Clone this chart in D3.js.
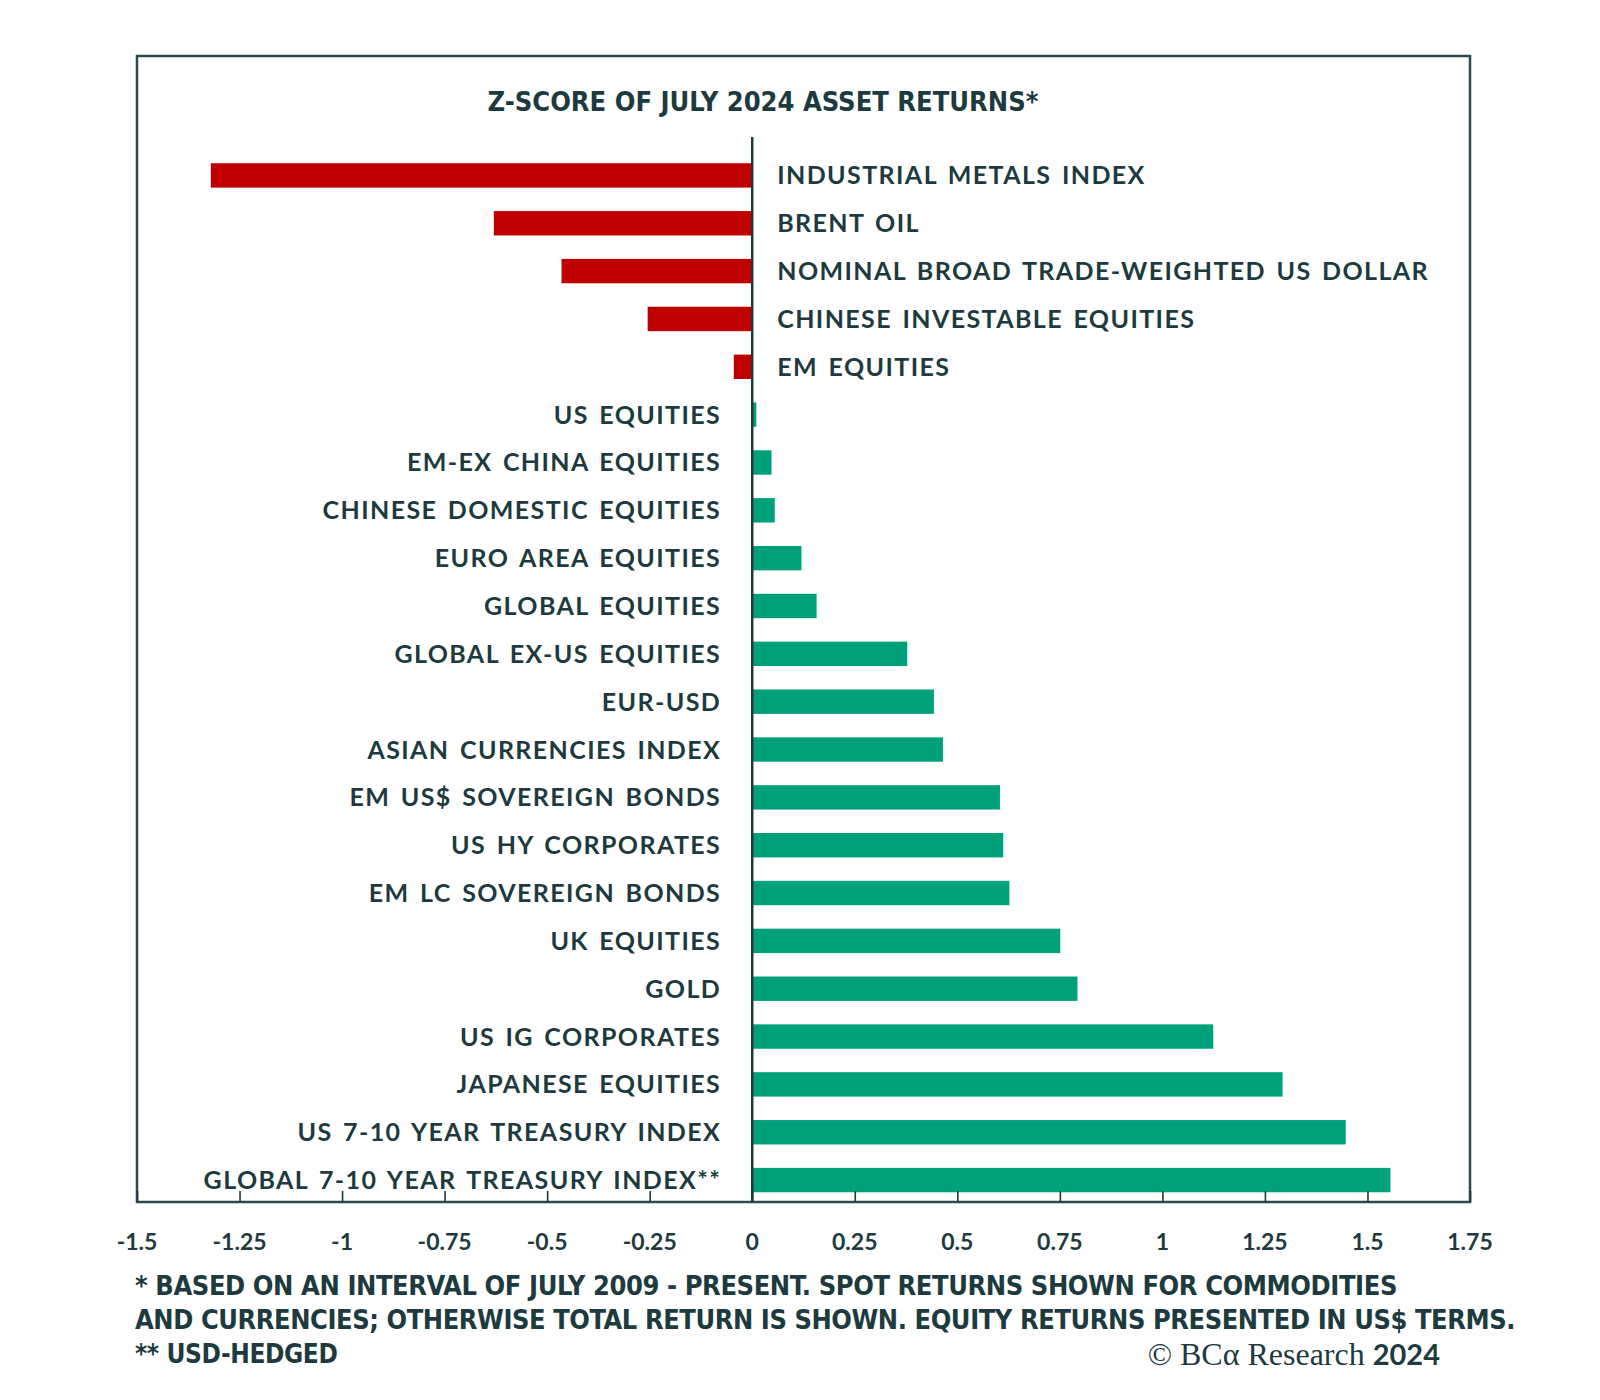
<!DOCTYPE html>
<html>
<head>
<meta charset="utf-8">
<script src="https://cdn.jsdelivr.net/npm/d3@7"></script>
<style>
  body { margin: 0; background: #fff; }
  svg { display: block; }
</style>
</head>
<body>
<svg id="chart" width="1600" height="1400"></svg>
<script>
// asset names, top to bottom
const assets = [
  "INDUSTRIAL METALS INDEX",
  "BRENT OIL",
  "NOMINAL BROAD TRADE-WEIGHTED US DOLLAR",
  "CHINESE INVESTABLE EQUITIES",
  "EM EQUITIES",
  "US EQUITIES",
  "EM-EX CHINA EQUITIES",
  "CHINESE DOMESTIC EQUITIES",
  "EURO AREA EQUITIES",
  "GLOBAL EQUITIES",
  "GLOBAL EX-US EQUITIES",
  "EUR-USD",
  "ASIAN CURRENCIES INDEX",
  "EM US$ SOVEREIGN BONDS",
  "US HY CORPORATES",
  "EM LC SOVEREIGN BONDS",
  "UK EQUITIES",
  "GOLD",
  "US IG CORPORATES",
  "JAPANESE EQUITIES",
  "US 7-10 YEAR TREASURY INDEX",
  "GLOBAL 7-10 YEAR TREASURY INDEX**"
];
// z-scores
const zscores = [
  -1.32, -0.63, -0.465, -0.255, -0.045,
  0.01, 0.047, 0.055, 0.12, 0.157, 0.378, 0.443, 0.465,
  0.604, 0.612, 0.627, 0.751, 0.793, 1.124, 1.293, 1.447, 1.556
];
const xTicks = [-1.5, -1.25, -1, -0.75, -0.5, -0.25, 0, 0.25, 0.5, 0.75, 1, 1.25, 1.5, 1.75];

const title = "Z-SCORE OF JULY 2024 ASSET RETURNS*";
const notes = [
  "* BASED ON AN INTERVAL OF JULY 2009 - PRESENT. SPOT RETURNS SHOWN FOR COMMODITIES",
  "AND CURRENCIES; OTHERWISE TOTAL RETURN IS SHOWN. EQUITY RETURNS PRESENTED IN US$ TERMS.",
  "** USD-HEDGED"
];

const data = assets.map((a, i) => ({name: a, v: zscores[i]}));

const ink = "#1d3b3e";
const red = "#c00000";
const green = "#00a07a";
const labelFont = "Lato, 'Open Sans', sans-serif";
const condFont = "'DejaVu Sans Condensed', 'Liberation Sans Narrow', sans-serif";

const svg = d3.select("#chart");
const frameL = 137, frameR = 1470, frameT = 56, frameB = 1202;

const x = d3.scaleLinear().domain([-1.5, 1.75]).range([frameL, frameR]);
const y = d3.scaleBand().domain(assets).range([151.5, 1204]).paddingInner(0.49).paddingOuter(0.245);

// frame
svg.append("rect")
  .attr("x", frameL).attr("y", frameT)
  .attr("width", frameR - frameL).attr("height", frameB - frameT)
  .attr("fill", "none").attr("stroke", "#2b4a4d").attr("stroke-width", 2.5);

// title
svg.append("text")
  .attr("x", 763).attr("y", 111)
  .attr("text-anchor", "middle")
  .attr("font-family", condFont).attr("font-weight", "bold")
  .attr("font-size", 27).attr("fill", ink)
  .attr("textLength", 551).attr("lengthAdjust", "spacingAndGlyphs")
  .text(title);

// bars
svg.append("g").selectAll("rect")
  .data(data).enter().append("rect")
  .attr("x", d => x(Math.min(0, d.v)))
  .attr("y", d => y(d.name))
  .attr("width", d => Math.abs(x(d.v) - x(0)))
  .attr("height", y.bandwidth())
  .attr("fill", d => d.v < 0 ? red : green);

// zero line
svg.append("line")
  .attr("x1", x(0)).attr("x2", x(0))
  .attr("y1", 137).attr("y2", frameB)
  .attr("stroke", ink).attr("stroke-width", 2.5);

// labels
svg.append("g").selectAll("text")
  .data(data).enter().append("text")
  .attr("x", d => d.v < 0 ? x(0) + 25 : x(0) - 31)
  .attr("y", d => y(d.name) + y.bandwidth() / 2)
  .attr("dy", "0.36em")
  .attr("text-anchor", d => d.v < 0 ? "start" : "end")
  .attr("font-family", labelFont).attr("font-weight", "bold")
  .attr("font-size", 25).attr("letter-spacing", 1.4).attr("word-spacing", 3)
  .attr("fill", ink)
  .text(d => d.name);

// x axis: ticks pointing up into the frame
const axis = d3.axisTop(x).tickValues(xTicks).tickSize(11).tickFormat("");
const ax = svg.append("g").attr("transform", `translate(0,${frameB})`).call(axis);
ax.select(".domain").remove();
ax.selectAll(".tick line").attr("stroke", ink).attr("stroke-width", 1.6);

svg.append("g").selectAll("text")
  .data(xTicks).enter().append("text")
  .attr("x", d => x(d)).attr("y", 1250)
  .attr("text-anchor", "middle")
  .attr("font-family", labelFont).attr("font-weight", "bold")
  .attr("font-size", 23).attr("fill", ink)
  .text(d => String(d));

// footnotes
const noteLen = [1262, 1380, null];
svg.append("g").selectAll("text")
  .data(notes).enter().append("text")
  .attr("x", 135)
  .attr("y", (d, i) => 1295 + i * 34)
  .attr("font-family", condFont).attr("font-weight", "bold")
  .attr("font-size", 26).attr("fill", ink)
  .attr("letter-spacing", -0.4)
  .each(function (d, i) {
    if (noteLen[i]) d3.select(this).attr("textLength", noteLen[i]).attr("lengthAdjust", "spacingAndGlyphs");
  })
  .text(d => d);

// copyright
const cp = svg.append("text")
  .attr("x", 1440).attr("y", 1365)
  .attr("text-anchor", "end").attr("fill", ink);
cp.append("tspan")
  .attr("font-family", "'Liberation Serif', serif").attr("font-size", 32)
  .text("© BCα Research ");
cp.append("tspan")
  .attr("font-family", labelFont).attr("font-weight", "bold").attr("font-size", 29)
  .text("2024");
</script>
</body>
</html>
